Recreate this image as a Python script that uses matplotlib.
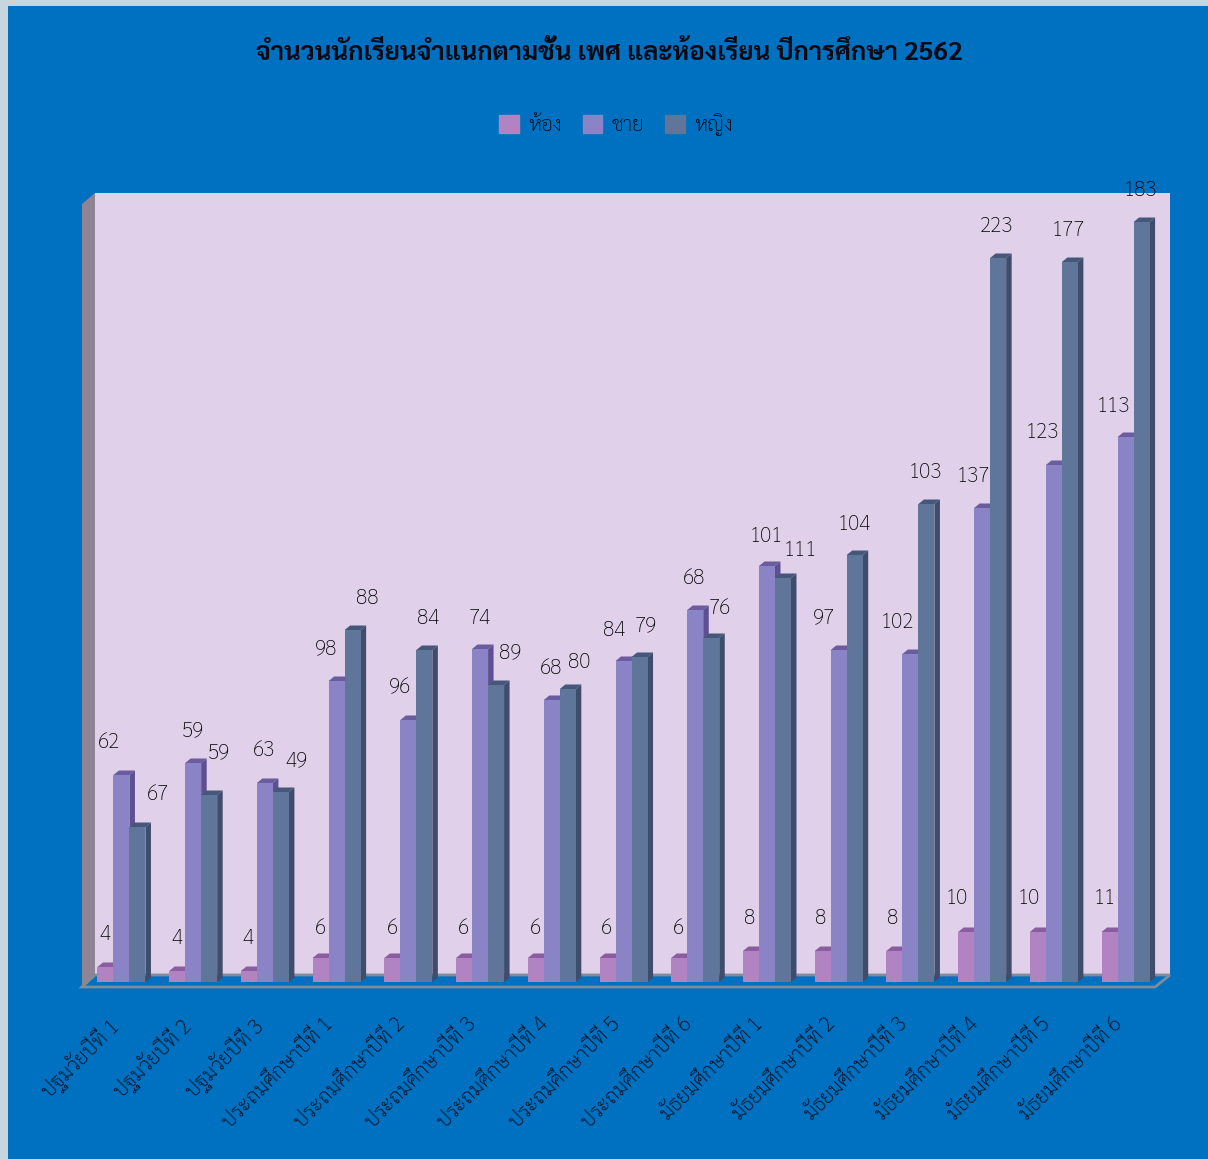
import matplotlib
matplotlib.use('Agg')
import matplotlib.pyplot as plt
from matplotlib.patches import Polygon, Rectangle, Patch
from matplotlib.transforms import ScaledTranslation

plt.rcParams['font.family'] = ['Sarabun', 'DejaVu Sans']

title = 'จำนวนนักเรียนจำแนกตามชั้น เพศ และห้องเรียน ปีการศึกษา 2562'
categories = ['ปฐมวัยปีที่ 1', 'ปฐมวัยปีที่ 2', 'ปฐมวัยปีที่ 3',
              'ประถมศึกษาปีที่ 1', 'ประถมศึกษาปีที่ 2', 'ประถมศึกษาปีที่ 3',
              'ประถมศึกษาปีที่ 4', 'ประถมศึกษาปีที่ 5', 'ประถมศึกษาปีที่ 6',
              'มัธยมศึกษาปีที่ 1', 'มัธยมศึกษาปีที่ 2', 'มัธยมศึกษาปีที่ 3',
              'มัธยมศึกษาปีที่ 4', 'มัธยมศึกษาปีที่ 5', 'มัธยมศึกษาปีที่ 6']
series_names = ['ห้อง', 'ชาย', 'หญิง']

# the printed labels do not follow the drawn heights, so both are kept
room_labels = [4, 4, 4, 6, 6, 6, 6, 6, 6, 8, 8, 8, 10, 10, 11]
boy_labels = [62, 59, 63, 98, 96, 74, 68, 84, 68, 101, 97, 102, 137, 123, 113]
girl_labels = [67, 59, 49, 88, 84, 89, 80, 79, 76, 111, 104, 103, 223, 177, 183]

room_heights = [15, 11, 11, 24, 24, 24, 24, 24, 24, 31, 31, 31, 50, 50, 50]
boy_heights = [207, 219, 199, 301, 262, 333, 282, 321, 372, 416, 332, 328, 474, 517, 545]
girl_heights = [155, 187, 190, 352, 332, 297, 293, 325, 344, 404, 427, 478, 724, 720, 760]

# label centres on the picture, in pixels
room_pos = [(105, 935), (177, 939), (248, 939), (320, 928), (392, 928), (463, 928), (535, 928), (606, 928),
            (678, 928), (750, 919), (821, 919), (893, 919), (957, 899), (1029, 899), (1105, 899)]
boy_pos = [(109, 742), (193, 731), (264, 751), (326, 649), (400, 688), (480, 618), (551, 669), (614, 630),
           (694, 579), (766, 536), (824, 618), (897, 622), (973, 477), (1042, 433), (1113, 406)]
girl_pos = [(158, 794), (219, 753), (296, 761), (367, 599), (428, 618), (510, 653), (579, 662), (646, 626),
            (720, 609), (800, 550), (854, 524), (925, 473), (997, 227), (1068, 231), (1140, 191)]

front_colors = ['#B283C3', '#8A83C6', '#5F7599']
top_colors = ['#8A5CA0', '#6A5C9E', '#46587A']
side_colors = ['#7E5294', '#5D5090', '#3F4C6B']
bg_blue = '#0070C0'

W, H = 1208, 1159
fig = plt.figure(figsize=(W / 100, H / 100), dpi=100, facecolor=bg_blue)

# page layer in pixel coordinates: strips, walls, floor, texts
bg = fig.add_axes([0, 0, 1, 1])
bg.set_xlim(0, W)
bg.set_ylim(H, 0)
bg.axis('off')
bg.add_patch(Rectangle((0, 0), 8, H, color='#C6D6DF', lw=0))
bg.add_patch(Rectangle((0, 0), W, 6, color='#C6D6DF', lw=0))
bg.add_patch(Polygon([(95, 193), (1170, 193), (1170, 975), (95, 975)], color='#E0D0EA', lw=0))
bg.add_patch(Polygon([(82, 204), (95, 193), (95, 975), (82, 986)], color='#8F8494', lw=0))
bg.add_patch(Polygon([(82, 987), (95, 975), (1170, 975), (1155, 987)], fc=bg_blue, ec='#7F8C9A', lw=2))

bg.text(609, 54, title, ha='center', va='center', fontsize=18.6, fontweight='bold', color='#0A0A14')
for pos, labels in zip([room_pos, boy_pos, girl_pos], [room_labels, boy_labels, girl_labels]):
    for (x, y), lab in zip(pos, labels):
        bg.text(x, y, str(lab), ha='center', va='center', fontsize=15, fontweight='light', color='black', zorder=20)

# bars on the front plane, y axis in drawn height units
x0, x1, base, top = 82, 1155, 982, 193
ax = fig.add_axes([x0 / W, 1 - base / H, (x1 - x0) / W, (base - top) / H])
ax.patch.set_alpha(0)
ax.set_xlim(-0.55, 14.41)
ax.set_ylim(0, base - top)

width = 16 / 71.7
depth_x = 5.5 / 71.7
depth_y = 4.5
for s, heights in enumerate([room_heights, boy_heights, girl_heights]):
    for i, h in enumerate(heights):
        left = i + (s - 1.5) * width
        right = left + width
        z = 3 + s
        ax.bar(left, h, width, align='edge', color=front_colors[s], lw=0, zorder=z + 0.2)
        ax.add_patch(Polygon([(left, h), (right, h), (right + depth_x, h + depth_y), (left + depth_x, h + depth_y)],
                             color=top_colors[s], lw=0, zorder=z, clip_on=False))
        ax.add_patch(Polygon([(right, 0), (right + depth_x, depth_y), (right + depth_x, h + depth_y), (right, h)],
                             color=side_colors[s], lw=0, zorder=z, clip_on=False))

ax.set_xticks(range(len(categories)))
ax.set_xticklabels(categories, rotation=45, ha='right', rotation_mode='anchor', fontsize=15, color='#05050F')
ax.tick_params(axis='x', length=0, pad=23)
shift = ScaledTranslation(-14 / 100, 0, fig.dpi_scale_trans)
for t in ax.get_xticklabels():
    t.set_transform(t.get_transform() + shift)
    t.set_fontweight('light')
ax.set_yticks([])
for sp in ax.spines.values():
    sp.set_visible(False)

handles = [Patch(color=c, label=n) for c, n in zip(front_colors, series_names)]
leg = fig.legend(handles=handles, loc='center', bbox_to_anchor=(616 / W, 1 - 125 / H), ncol=3, frameon=False,
                 prop={'size': 15, 'weight': 'light'}, handlelength=0.95, handleheight=0.95, handletextpad=0.45,
                 columnspacing=1.0)
for t in leg.get_texts():
    t.set_color('black')

fig.savefig('out.png', dpi=100, facecolor=fig.get_facecolor())
